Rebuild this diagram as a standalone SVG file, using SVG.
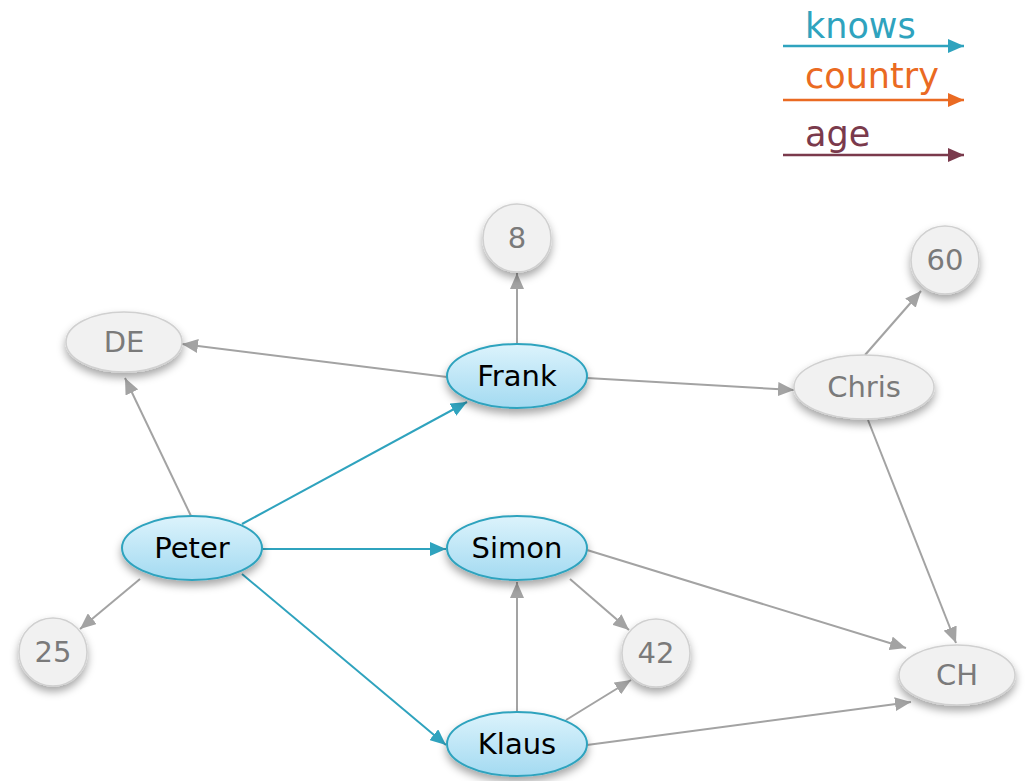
<svg xmlns="http://www.w3.org/2000/svg" width="1025" height="781" viewBox="0 0 1025 781">
<defs>
<linearGradient id="blue" x1="0" y1="0" x2="0" y2="1">
<stop offset="0" stop-color="#dcf3fc"/>
<stop offset="1" stop-color="#a3daf1"/>
</linearGradient>
<filter id="sh" x="-30%" y="-30%" width="160%" height="180%">
<feDropShadow dx="0" dy="5" stdDeviation="4" flood-color="#000" flood-opacity="0.35"/>
</filter>
<marker id="ag" viewBox="0 0 16 14" refX="16" refY="7" markerWidth="16" markerHeight="14" markerUnits="userSpaceOnUse" orient="auto"><path d="M0,0 L16,7 L0,14 Z" fill="#a3a3a3"/></marker>
<marker id="ab" viewBox="0 0 16 14" refX="16" refY="7" markerWidth="16" markerHeight="14" markerUnits="userSpaceOnUse" orient="auto"><path d="M0,0 L16,7 L0,14 Z" fill="#2fa3be"/></marker>
<marker id="ao" viewBox="0 0 16 14" refX="16" refY="7" markerWidth="16" markerHeight="14" markerUnits="userSpaceOnUse" orient="auto"><path d="M0,0 L16,7 L0,14 Z" fill="#ea6a22"/></marker>
<marker id="ap" viewBox="0 0 16 14" refX="16" refY="7" markerWidth="16" markerHeight="14" markerUnits="userSpaceOnUse" orient="auto"><path d="M0,0 L16,7 L0,14 Z" fill="#7a3a4c"/></marker>
</defs>
<style>
.g{stroke:#a3a3a3;stroke-width:2;fill:none;marker-end:url(#ag)}
.b{stroke:#2fa3be;stroke-width:2;fill:none;marker-end:url(#ab)}
.bn{fill:url(#blue);stroke:#2fa3be;stroke-width:2;filter:url(#sh)}
.gn{fill:#f1f1f1;stroke:#d0d0d0;stroke-width:1.5;filter:url(#sh)}
.bt{font-family:"DejaVu Sans",sans-serif;font-size:29px;fill:#000;text-anchor:middle}
.gt{font-family:"DejaVu Sans",sans-serif;font-size:29px;fill:#7a7a7a;text-anchor:middle}
.lt{font-family:"DejaVu Sans",sans-serif;font-size:35px}
</style>
<g id="legend">
<text class="lt" x="805" y="38" fill="#2fa3be">knows</text>
<line x1="783" y1="46" x2="964" y2="46" stroke="#2fa3be" stroke-width="2.5" marker-end="url(#ab)"/>
<text class="lt" x="805" y="88" fill="#ea6a22">country</text>
<line x1="783" y1="100" x2="964" y2="100" stroke="#ea6a22" stroke-width="2.5" marker-end="url(#ao)"/>
<text class="lt" x="805" y="146" fill="#7a3a4c">age</text>
<line x1="783" y1="155" x2="964" y2="155" stroke="#7a3a4c" stroke-width="2.5" marker-end="url(#ap)"/>
</g>
<g id="connectors">
<line class="g" x1="517" y1="344" x2="517" y2="273"/>
<line class="g" x1="447" y1="377" x2="182" y2="344"/>
<line class="g" x1="587" y1="378" x2="794" y2="390"/>
<line class="g" x1="865" y1="355" x2="921" y2="291"/>
<line class="g" x1="868" y1="420" x2="956" y2="643"/>
<line class="g" x1="191" y1="516" x2="125" y2="378"/>
<line class="g" x1="140" y1="579" x2="80" y2="629"/>
<line class="g" x1="570" y1="579" x2="629" y2="630"/>
<line class="g" x1="587" y1="550" x2="906" y2="648"/>
<line class="g" x1="517" y1="712" x2="517" y2="582"/>
<line class="g" x1="566" y1="720" x2="631" y2="680"/>
<line class="g" x1="587" y1="745" x2="911" y2="702"/>
<line class="b" x1="242" y1="524" x2="467" y2="402"/>
<line class="b" x1="262" y1="549" x2="446" y2="549"/>
<line class="b" x1="242" y1="574" x2="446" y2="745"/>
</g>
<g id="n8"><circle class="gn" cx="517" cy="238" r="34"/><text class="gt" x="517" y="248">8</text></g>
<g id="n60"><circle class="gn" cx="945" cy="260" r="34"/><text class="gt" x="945" y="270">60</text></g>
<g id="n25"><circle class="gn" cx="53" cy="652" r="34"/><text class="gt" x="53" y="662">25</text></g>
<g id="n42"><circle class="gn" cx="656" cy="653" r="34"/><text class="gt" x="656" y="663">42</text></g>
<g id="DE"><ellipse class="gn" cx="124" cy="342" rx="58" ry="30"/><text class="gt" x="124" y="352">DE</text></g>
<g id="CH"><ellipse class="gn" cx="957" cy="675" rx="58" ry="30"/><text class="gt" x="957" y="685">CH</text></g>
<g id="Chris"><ellipse class="gn" cx="864" cy="387" rx="70" ry="32"/><text class="gt" x="864" y="397">Chris</text></g>
<g id="Frank"><ellipse class="bn" cx="517" cy="376" rx="70" ry="32"/><text class="bt" x="517" y="386">Frank</text></g>
<g id="Peter"><ellipse class="bn" cx="192" cy="548" rx="70" ry="32"/><text class="bt" x="192" y="558">Peter</text></g>
<g id="Simon"><ellipse class="bn" cx="517" cy="548" rx="70" ry="32"/><text class="bt" x="517" y="558">Simon</text></g>
<g id="Klaus"><ellipse class="bn" cx="517" cy="744" rx="70" ry="32"/><text class="bt" x="517" y="754">Klaus</text></g>
</svg>
